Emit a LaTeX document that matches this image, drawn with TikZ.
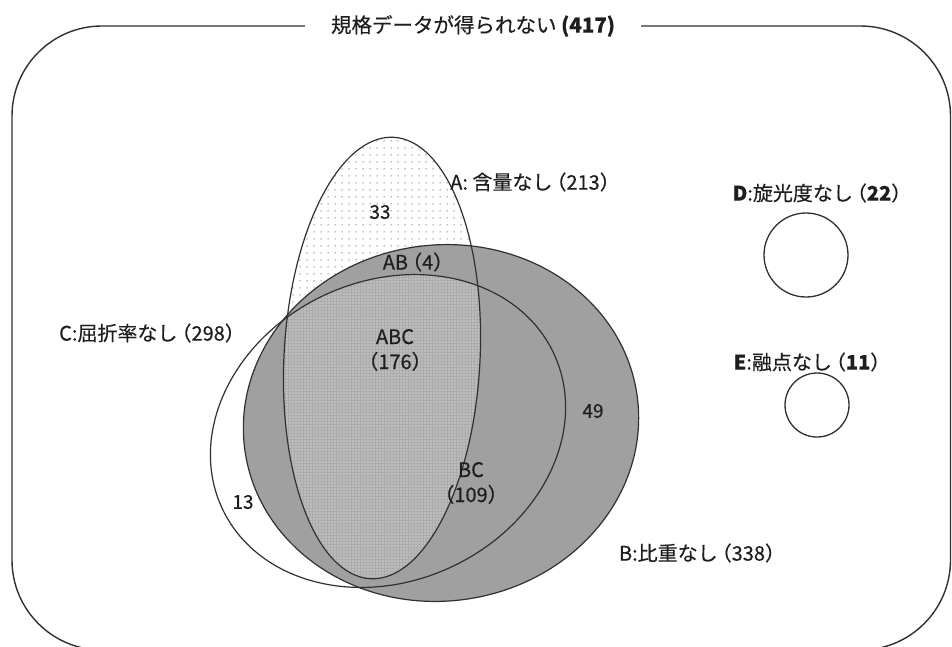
\documentclass[tikz,border=0pt]{standalone}
\usepackage{fontspec}
\setmainfont{Noto Sans CJK JP}
\newfontfamily\medfont{Noto Sans CJK JP}[FakeBold=0.35]
\newcommand\myLp{\kern-6pt（}
\newcommand\myRp{）}
\usetikzlibrary{patterns.meta}
\definecolor{lineC}{HTML}{303030}
\definecolor{grayB}{HTML}{a0a0a0}
\definecolor{grayABC}{HTML}{bdbdbd}
\definecolor{gridABC}{HTML}{ababab}
\definecolor{txt}{HTML}{1e1e1e}
\begin{document}
\begin{tikzpicture}[x=1pt,y=-1pt,
  posA/.style={shift={(382,358)},rotate=-3},
  posB/.style={shift={(441,423)},rotate=8},
  posC/.style={shift={(388,431)},rotate=25},
  outline/.style={draw=lineC, line width=1.2pt},
  lbl/.style={font=\medfont\fontsize{20}{25}\selectfont, text=txt, inner sep=1pt, align=center},
  num/.style={font=\medfont\fontsize{19}{20}\selectfont, text=txt, inner sep=1pt},
  ring/.style={circle, draw=lineC, line width=1.3pt, inner sep=0pt},
]
\useasboundingbox (0,0) rectangle (952,646);
\fill[white] (0,0) rectangle (952,646);
% frame
\draw[line width=1.4pt, draw=lineC, rounded corners=90pt] (12,26) rectangle (950.5,650);
\node[fill=white, inner xsep=26pt, inner ysep=4pt, text=txt, font=\medfont\fontsize{20.5}{22}\selectfont] (title) at (473,26) {規格データが得られない \textbf{(417)}};
% Venn fills
\fill[posA, pattern={Dots[radius=0.8pt,distance=6.5pt]}, pattern color=black!50] (0,0) ellipse[x radius=98pt, y radius=221pt];
\fill[posB, grayB] (0,0) ellipse[x radius=198pt, y radius=178pt];
\begin{scope}
  \clip[posA] (0,0) ellipse[x radius=98pt, y radius=221pt];
  \clip[posB] (0,0) ellipse[x radius=198pt, y radius=178pt];
  \clip[posC] (0,0) ellipse[x radius=183pt, y radius=150pt];
  \fill[grayABC] (0,0) rectangle (952,646);
  \fill[pattern={Hatch[angle=0,distance=3pt,line width=0.4pt]}, pattern color=gridABC] (0,0) rectangle (952,646);
\end{scope}
% Venn outlines
\draw[posA, outline] (0,0) ellipse[x radius=98pt, y radius=221pt];
\draw[posB, outline] (0,0) ellipse[x radius=198pt, y radius=178pt];
\draw[posC, outline] (0,0) ellipse[x radius=183pt, y radius=150pt];
% labels
\node[lbl] (labA) at (535,182) {A: 含量なし\myLp 213\myRp};
\node[num] (nA) at (380,212) {33};
\node[lbl] (nAB) at (418,262) {AB\myLp 4\myRp};
\node[lbl] (labC) at (152,333) {C:屈折率なし\myLp 298\myRp};
\node[lbl] (nABC) at (395,350) {ABC\\（176）};
\node[num] (nB) at (593,411) {49};
\node[num] (nC) at (243,502) {13};
\node[lbl] (nBC) at (471,483) {BC\\（109）};
\node[lbl] (labB) at (702,553) {B:比重なし\myLp 338\myRp};
% D and E
\node[lbl] (labD) at (822,193) {\textbf{D}:旋光度なし\myLp\textbf{22}\myRp};
\node[ring, minimum size=84pt] (D) at (806,255) {};
\node[lbl] (labE) at (812,362) {\textbf{E}:融点なし\myLp\textbf{11}\myRp};
\node[ring, minimum size=64pt] (E) at (817,405) {};
\end{tikzpicture}
\end{document}
